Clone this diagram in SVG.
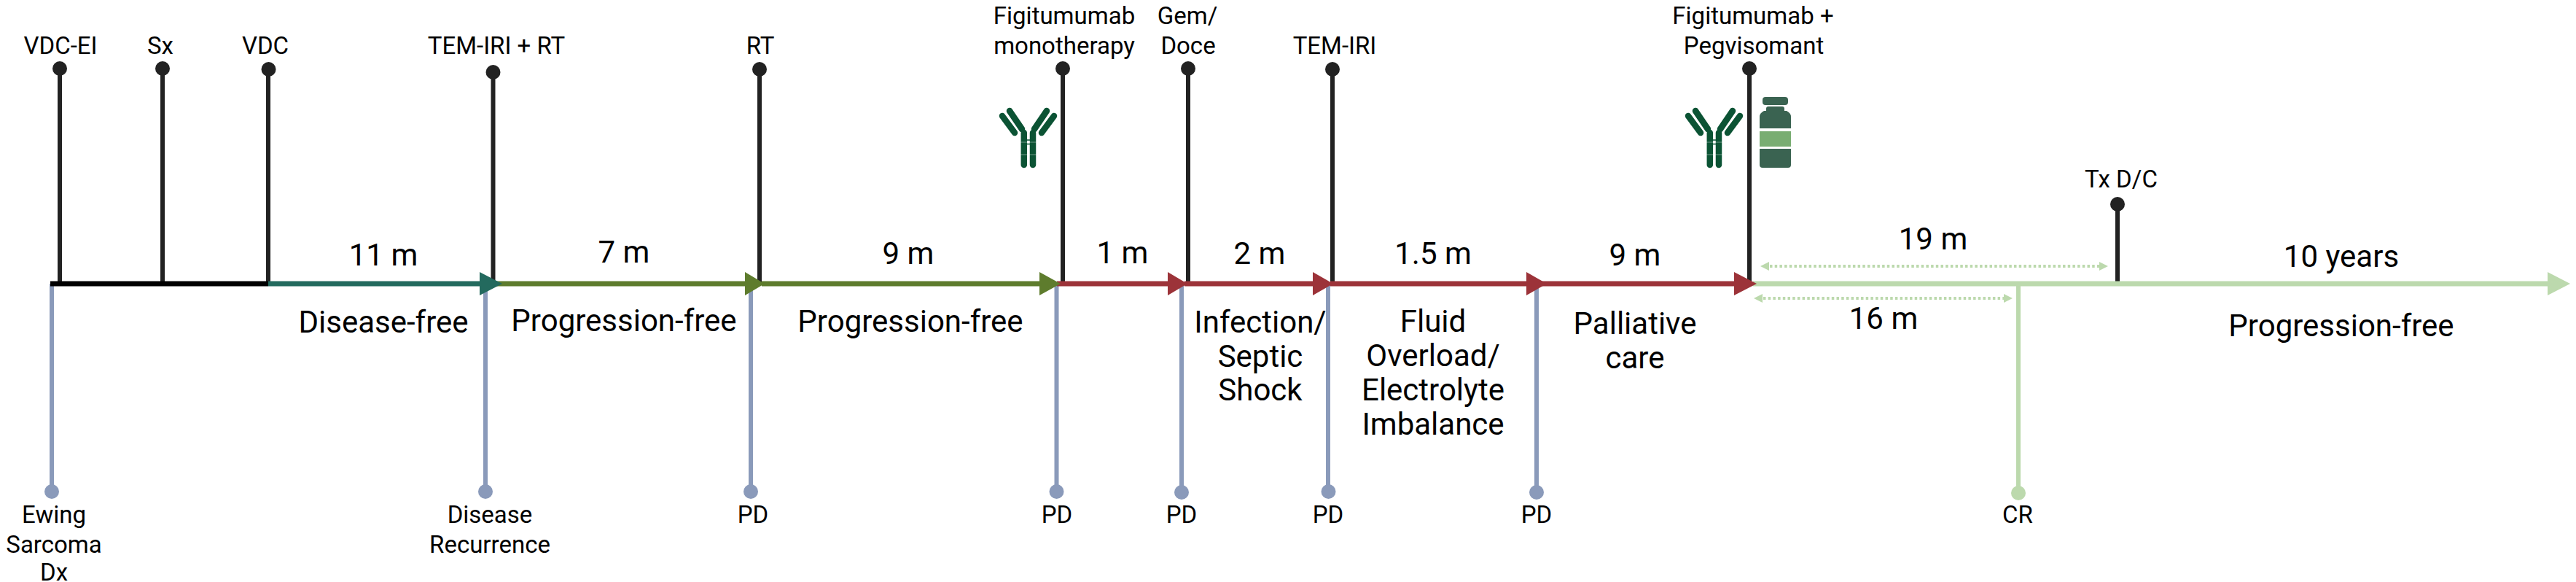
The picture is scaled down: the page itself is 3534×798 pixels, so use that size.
<svg xmlns="http://www.w3.org/2000/svg" width="3534" height="798" viewBox="0 0 3534 798">
<style>
text{font-family:Roboto,"Liberation Sans",sans-serif;fill:#000;text-anchor:middle}
.s{font-size:33px}
.b{font-size:42px}
.stem{stroke:#222;stroke-width:6;fill:none}
.dot{fill:#222}
.pd{stroke:#8a9aba;stroke-width:6;fill:none}
.pdd{fill:#8a9aba}
.ax{stroke-width:7;fill:none}
.ab{stroke:#0b5334;stroke-width:8.500;stroke-linecap:round;fill:none}
.dash{stroke:#bcd9ad;stroke-width:4;stroke-dasharray:3.5 3.2;fill:none}
.lg{fill:#bcd9ad}
.lgs{stroke:#bcd9ad}
</style>
<defs>
<g id="antibody">
<path class="ab" d="M1404.800 182V226M1417 182V226M1375 159L1392 182M1385 152L1402 177M1446 159L1429 182M1436 152L1419 177"/>
<path d="M1408 192H1414M1408 197.500H1414" stroke="#0b5334" stroke-width="1.500"/>
<path d="M1400 195H1422M1400 212H1422" stroke="#fff" stroke-width="1" opacity=".4"/>
</g>
</defs>
<g id="connectors">
<path class="stem" d="M82 94V389M223 94V389M368 95V389M676.500 98V389M1042 94V389M1458 94V389M1630 94V389M1828 95V389M2400 94V389M2905 280V389"/>
<path class="pd" d="M71 389V674M666 389V674M1030 389V674M1449.500 389V674M1621 389V675M1822 389V674M2108 389V675"/>
<path class="ax" stroke="#000" d="M69 389H368"/>
<path class="ax" stroke="#236a5e" d="M368 389H665"/>
<path class="ax" stroke="#5e7c2d" d="M680 389H1030M1045 389H1435"/>
<path class="ax" stroke="#9c3339" d="M1450 389H1610M1625 389H1810M1825 389H2100M2115 389H2385"/>
<path class="ax lgs" d="M2405 389H3500"/>
<path class="lgs" stroke-width="6" fill="none" d="M2769 389V676"/>
<polygon fill="#236a5e" points="658,373 689,389 658,405"/>
<polygon fill="#5e7c2d" points="1022,373 1049,389 1022,405"/>
<polygon fill="#5e7c2d" points="1426,373 1455,389 1426,405"/>
<polygon fill="#9c3339" points="1602,373 1629,389 1602,405"/>
<polygon fill="#9c3339" points="1801,373 1829,389 1801,405"/>
<polygon fill="#9c3339" points="2094,373 2122,389 2094,405"/>
<polygon fill="#9c3339" points="2379,373 2410,389 2379,405"/>
<polygon class="lg" points="3495,373 3526,389 3495,405"/>
<path class="dash" d="M2428 365H2881M2419 409H2750"/>
<polygon class="lg" points="2427,359 2415,365 2427,371"/>
<polygon class="lg" points="2880,359 2892,365 2880,371"/>
<polygon class="lg" points="2418,403 2406,409 2418,415"/>
<polygon class="lg" points="2749,403 2761,409 2749,415"/>
</g>
<g id="n-vdcei"><circle class="dot" cx="82" cy="94" r="10"/><text class="s" x="83" y="74">VDC-EI</text></g>
<g id="n-sx"><circle class="dot" cx="223" cy="94" r="10"/><text class="s" x="220" y="74">Sx</text></g>
<g id="n-vdc"><circle class="dot" cx="368.500" cy="95" r="10"/><text class="s" x="364" y="74">VDC</text></g>
<g id="n-temirirt"><circle class="dot" cx="676.500" cy="99" r="10"/><text class="s" x="681" y="74">TEM-IRI + RT</text></g>
<g id="n-rt"><circle class="dot" cx="1042" cy="95" r="10"/><text class="s" x="1043" y="74">RT</text></g>
<g id="n-figit"><circle class="dot" cx="1458" cy="94" r="10"/><text class="s" x="1460" y="33">Figitumumab</text><text class="s" x="1460" y="74">monotherapy</text></g>
<g id="n-gem"><circle class="dot" cx="1630" cy="94" r="10"/><text class="s" x="1629" y="33">Gem/</text><text class="s" x="1630" y="74">Doce</text></g>
<g id="n-temiri"><circle class="dot" cx="1828" cy="95" r="10"/><text class="s" x="1831" y="74">TEM-IRI</text></g>
<g id="n-figpeg"><circle class="dot" cx="2400" cy="94" r="10"/><text class="s" x="2405" y="33">Figitumumab +</text><text class="s" x="2406" y="74">Pegvisomant</text></g>
<g id="n-txdc"><circle class="dot" cx="2905" cy="280" r="10"/><text class="s" x="2910" y="257">Tx D/C</text></g>
<g id="n-ewing"><circle class="pdd" cx="71" cy="674" r="10"/><text class="s" x="74" y="717">Ewing</text><text class="s" x="74" y="758">Sarcoma</text><text class="s" x="74" y="796">Dx</text></g>
<g id="n-recur"><circle class="pdd" cx="666" cy="674" r="10"/><text class="s" x="672" y="717">Disease</text><text class="s" x="672" y="758">Recurrence</text></g>
<g id="n-pd1"><circle class="pdd" cx="1030" cy="674" r="10"/><text class="s" x="1033" y="717">PD</text></g>
<g id="n-pd2"><circle class="pdd" cx="1449.500" cy="674" r="10"/><text class="s" x="1450" y="717">PD</text></g>
<g id="n-pd3"><circle class="pdd" cx="1621" cy="675" r="10"/><text class="s" x="1621" y="717">PD</text></g>
<g id="n-pd4"><circle class="pdd" cx="1822.500" cy="674" r="10"/><text class="s" x="1822" y="717">PD</text></g>
<g id="n-pd5"><circle class="pdd" cx="2108" cy="675" r="10"/><text class="s" x="2108" y="717">PD</text></g>
<g id="n-cr"><circle class="lg" cx="2769" cy="676" r="10"/><text class="s" x="2768" y="717">CR</text></g>
<g id="durations">
<text class="b" x="526" y="364">11 m</text>
<text class="b" x="856" y="360">7 m</text>
<text class="b" x="1246" y="362">9 m</text>
<text class="b" x="1540" y="361">1 m</text>
<text class="b" x="1728" y="362">2 m</text>
<text class="b" x="1966" y="362">1.5 m</text>
<text class="b" x="2243" y="364">9 m</text>
<text class="b" x="2652" y="342">19 m</text>
<text class="b" x="3212" y="366">10 years</text>
<text class="b" x="2584" y="451">16 m</text>
</g>
<g id="phases">
<text class="b" x="526" y="456">Disease-free</text>
<text class="b" x="856" y="454">Progression-free</text>
<text class="b" x="1249" y="455">Progression-free</text>
<text class="b" x="1729" y="456">Infection/</text>
<text class="b" x="1729" y="503">Septic</text>
<text class="b" x="1729" y="549">Shock</text>
<text class="b" x="1966" y="455">Fluid</text>
<text class="b" x="1966" y="502">Overload/</text>
<text class="b" x="1966" y="549">Electrolyte</text>
<text class="b" x="1966" y="596">Imbalance</text>
<text class="b" x="2243" y="458">Palliative</text>
<text class="b" x="2243" y="505">care</text>
<text class="b" x="3212" y="461">Progression-free</text>
</g>
<g id="antibody-1"><use href="#antibody"/></g>
<g id="antibody-2"><use href="#antibody" transform="translate(941 0)"/></g>
<g id="bottle" fill="#3a6351">
<rect x="2418" y="133" width="35" height="11" rx="4"/>
<path d="M2423 176H2414V160Q2414 155 2420 152H2423V149Q2423 146 2426 146H2445Q2448 146 2448 149V152H2451Q2457 155 2457 160V176Z"/>
<rect x="2414" y="180" width="43" height="21" fill="#79ad72"/>
<path d="M2414 204H2457V226Q2457 230 2453 230H2418Q2414 230 2414 226Z"/>
</g>
</svg>
